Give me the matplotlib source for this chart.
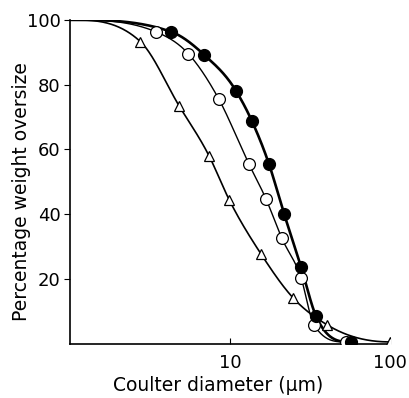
import numpy as np
import matplotlib
matplotlib.use("Agg")
import matplotlib.pyplot as plt

# Coulter diameter (um) vs percentage weight oversize
filled_x = [4.3, 6.9, 10.9, 13.7, 17.5, 21.8, 27.8, 34.5, 57]
filled_y = [96.3, 89.2, 78.1, 68.8, 55.6, 40.1, 23.8, 8.6, 0.6]

open_x = [3.45, 5.5, 8.5, 13.1, 16.8, 21.1, 27.8, 33.5, 53]
open_y = [96.3, 89.5, 75.6, 55.6, 44.7, 32.6, 20.4, 5.9, 0.6]

tri_x = [2.75, 4.8, 7.4, 9.9, 15.6, 24.8, 40.4, 100]
tri_y = [93.3, 73.5, 58.0, 44.4, 27.8, 14.2, 5.9, 0.6]

# all curves start flat at the top left
curve_start = (1.0, 100.0)

xticks = [10, 100]
yticks = [20, 40, 60, 80, 100]


def smooth_through(xs, ys, xn):
    # cubic hermite, parabolic slopes, clipped to stay monotone, flat at both ends
    xs = np.asarray(xs, float)
    ys = np.asarray(ys, float)
    h = np.diff(xs)
    d = np.diff(ys) / h
    m = np.zeros_like(ys)
    for i in range(1, len(xs) - 1):
        if d[i - 1] * d[i] > 0:
            s = (h[i] * d[i - 1] + h[i - 1] * d[i]) / (h[i - 1] + h[i])
            lim = 3 * min(abs(d[i - 1]), abs(d[i]))
            m[i] = np.sign(s) * min(abs(s), lim)
    out = np.empty_like(xn)
    for j, x in enumerate(xn):
        k = min(max(np.searchsorted(xs, x) - 1, 0), len(xs) - 2)
        t = (x - xs[k]) / h[k]
        h00 = 2 * t**3 - 3 * t**2 + 1
        h10 = t**3 - 2 * t**2 + t
        h01 = -2 * t**3 + 3 * t**2
        h11 = t**3 - t**2
        out[j] = h00 * ys[k] + h10 * h[k] * m[k] + h01 * ys[k + 1] + h11 * h[k] * m[k + 1]
    return out


def curve(xs, ys):
    lx = np.log10(np.r_[curve_start[0], xs])
    yy = np.r_[curve_start[1], ys]
    grid = np.linspace(lx[0], lx[-1], 500)
    return 10**grid, smooth_through(lx, yy, grid)


fig = plt.figure(figsize=(4.10, 3.98), dpi=100)
ax = fig.add_axes([0.171, 0.136, 0.78, 0.814])

cx, cy = curve(filled_x, filled_y)
ax.plot(cx, cy, color="black", lw=1.9)
cx, cy = curve(open_x, open_y)
ax.plot(cx, cy, color="black", lw=1.0)
cx, cy = curve(tri_x, tri_y)
ax.plot(cx, cy, color="black", lw=1.2)

ax.plot(tri_x, tri_y, ls="none", marker="^", ms=7.5, mfc="white", mec="black", mew=0.9, zorder=3)
ax.plot(open_x, open_y, ls="none", marker="o", ms=8.5, mfc="white", mec="black", mew=0.9, zorder=3)
ax.plot(filled_x, filled_y, ls="none", marker="o", ms=8.5, mfc="black", mec="black", zorder=4)

ax.set_xscale("log")
ax.set_xlim(1, 100)
ax.set_ylim(0, 100)
ax.set_xticks(xticks)
ax.set_xticklabels([str(t) for t in xticks])
ax.xaxis.set_minor_locator(matplotlib.ticker.NullLocator())
ax.set_yticks(yticks)
ax.tick_params(axis="x", direction="in", length=4, labelsize=13, pad=7)
ax.tick_params(axis="y", direction="out", length=4, labelsize=13, pad=3)

for s in ["top", "right"]:
    ax.spines[s].set_visible(False)
ax.spines["left"].set_linewidth(1.2)
ax.spines["bottom"].set_linewidth(1.2)

ax.set_xlabel("Coulter diameter (\u03bcm)", fontsize=13.5)
ax.set_ylabel("Percentage weight oversize", fontsize=13.5)
ax.xaxis.set_label_coords(0.4625, -0.099)
ax.yaxis.set_label_coords(-0.122, 0.469)

fig.savefig("out.png", dpi=100)
